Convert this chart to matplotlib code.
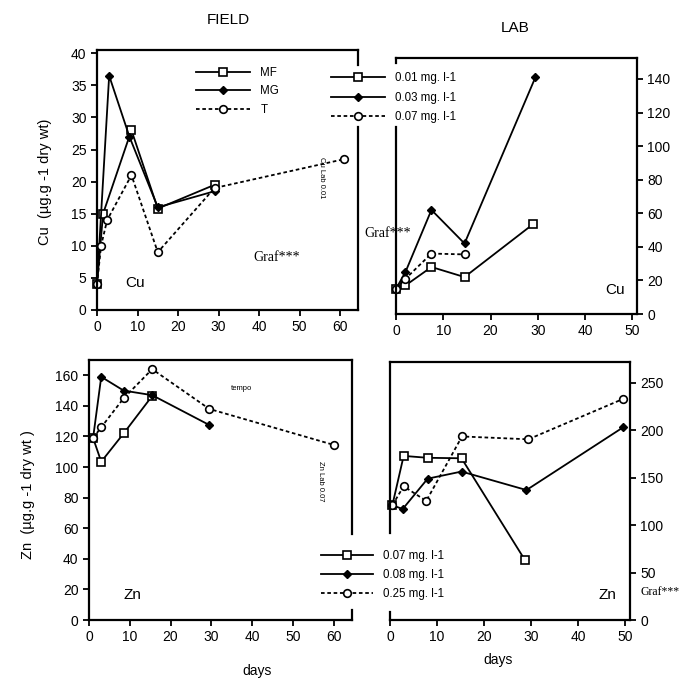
import numpy as np
import matplotlib
matplotlib.use('Agg')
import matplotlib.pyplot as plt

plt.rcParams['font.family'] = ['Liberation Sans', 'DejaVu Sans']

W, H = 685, 683

# field Cu
cu_f_mf_x = [0, 1.5, 8.5, 15, 29]
cu_f_mf_y = [4, 15, 28, 15.8, 19.5]
cu_f_mg_x = [0, 3, 8, 15, 29]
cu_f_mg_y = [4, 36.5, 27, 16, 18.5]
cu_f_t_x = [0, 1, 2.5, 8.5, 15, 29, 61]
cu_f_t_y = [4, 10, 14, 21, 9, 19, 23.5]

# lab Cu
cu_l_01_x = [0, 2, 7.5, 14.5, 29]
cu_l_01_y = [15, 17, 28, 22, 53.5]
cu_l_03_x = [0, 2, 7.5, 14.5, 29.5]
cu_l_03_y = [15, 25, 62, 42, 141]
cu_l_07_x = [0, 2, 7.5, 14.5]
cu_l_07_y = [15, 21, 36, 35.5]

# field Zn
zn_f_07_x = [1, 3, 8.5, 15.5]
zn_f_07_y = [119, 103.5, 122, 146.5]
zn_f_08_x = [1, 3, 8.5, 15.5, 29.5]
zn_f_08_y = [119, 159, 150, 147, 127.5]
zn_f_25_x = [1, 3, 8.5, 15.5, 29.5, 60]
zn_f_25_y = [119, 126, 145, 164, 138, 114.5]

# lab Zn
zn_l_07_x = [0.5, 2.9, 8, 15.2, 28.7]
zn_l_07_y = [121, 173, 171, 170.5, 63]
zn_l_08_x = [0.5, 2.7, 8, 15.2, 29, 49.5]
zn_l_08_y = [121, 117, 149, 156.5, 137, 203]
zn_l_25_x = [0.5, 2.9, 7.7, 15.3, 29.4, 49.5]
zn_l_25_y = [121, 141, 125.5, 193.5, 190.5, 233]

cu_legend = ['MF', 'MG', 'T']
cu_lab_legend = ['0.01 mg. l-1', '0.03 mg. l-1', '0.07 mg. l-1']
zn_legend = ['0.07 mg. l-1', '0.08 mg. l-1', '0.25 mg. l-1']


def rect(l, r, t, b):
    return [l / W, 1 - b / H, (r - l) / W, (b - t) / H]


sq = dict(color='black', lw=1.3, marker='s', ms=5.5, mfc='white', mew=1.2, clip_on=False)
dm = dict(color='black', lw=1.3, marker='D', ms=4, mfc='black', clip_on=False)
ci = dict(color='black', lw=1.3, ls=(0, (2, 1.5)), marker='o', ms=5.5, mfc='white', mew=1.2, clip_on=False)


def style(ax):
    for s in ax.spines.values():
        s.set_linewidth(1.6)
    ax.tick_params(labelsize=10, width=1.3, length=4)


def seg(ax, x, y0, y1):
    ax.plot([x, x], [y0, y1], transform=ax.transAxes, color='black', lw=1.6, clip_on=False)


fig = plt.figure(figsize=(W / 100, H / 100), dpi=100)

# top left: field Cu
ax1 = fig.add_axes(rect(97, 358, 50, 310))
l_mf, = ax1.plot(cu_f_mf_x, cu_f_mf_y, **sq)
l_mg, = ax1.plot(cu_f_mg_x, cu_f_mg_y, **dm)
l_t, = ax1.plot(cu_f_t_x, cu_f_t_y, **ci)
ax1.set_xlim(0, 64.4)
ax1.set_ylim(0, 40.5)
ax1.set_xticks(np.arange(0, 61, 10))
ax1.set_yticks(np.arange(0, 41, 5))
style(ax1)
ax1.spines['right'].set_visible(False)
seg(ax1, 1, 1, 0.942)
seg(ax1, 1, 0.704, 0)
ax1.text(0.11, 0.09, 'Cu', transform=ax1.transAxes, fontsize=11)
ax1.text(0.6, 0.19, 'Graf***', transform=ax1.transAxes, fontsize=10, family='Liberation Serif')
ax1.text(0.86, 0.59, 'Cu Lab 0.01', transform=ax1.transAxes, fontsize=5.5, rotation=-90,
         va='top', ha='center')

# top right: lab Cu
ax2 = fig.add_axes(rect(396, 637, 58, 314))
ax2.plot(cu_l_01_x, cu_l_01_y, **sq)
ax2.plot(cu_l_03_x, cu_l_03_y, **dm)
ax2.plot(cu_l_07_x, cu_l_07_y, **ci)
ax2.set_xlim(0, 51)
ax2.set_ylim(0, 152.5)
ax2.set_xticks(np.arange(0, 51, 10))
ax2.set_yticks(np.arange(0, 141, 20))
ax2.yaxis.tick_right()
style(ax2)
ax2.spines['left'].set_visible(False)
seg(ax2, 0, 1, 0.98)
seg(ax2, 0, 0.73, 0)
ax2.text(0.87, 0.08, 'Cu', transform=ax2.transAxes, fontsize=11)
ax2.text(-0.13, 0.3, 'Graf***', transform=ax2.transAxes, fontsize=10, family='Liberation Serif')

# bottom left: field Zn
ax3 = fig.add_axes(rect(89, 352, 360, 620))
z1, = ax3.plot(zn_f_07_x, zn_f_07_y, **sq)
z2, = ax3.plot(zn_f_08_x, zn_f_08_y, **dm)
z3, = ax3.plot(zn_f_25_x, zn_f_25_y, **ci)
ax3.set_xlim(0, 64.5)
ax3.set_ylim(0, 170)
ax3.set_xticks(np.arange(0, 61, 10))
ax3.set_yticks(np.arange(0, 161, 20))
style(ax3)
ax3.spines['right'].set_visible(False)
seg(ax3, 1, 1, 0.331)
seg(ax3, 1, 0.038, 0)
ax3.text(0.13, 0.08, 'Zn', transform=ax3.transAxes, fontsize=11)
ax3.text(0.54, 0.885, 'tempo', transform=ax3.transAxes, fontsize=5.5)
ax3.text(0.88, 0.61, 'Zn Lab 0.07', transform=ax3.transAxes, fontsize=5.5, rotation=-90,
         va='top', ha='center')

# bottom right: lab Zn
ax4 = fig.add_axes(rect(390, 630, 362, 620))
ax4.plot(zn_l_07_x, zn_l_07_y, **sq)
ax4.plot(zn_l_08_x, zn_l_08_y, **dm)
ax4.plot(zn_l_25_x, zn_l_25_y, **ci)
ax4.set_xlim(0, 51)
ax4.set_ylim(0, 272)
ax4.set_xticks(np.arange(0, 51, 10))
ax4.set_yticks(np.arange(0, 251, 50))
ax4.yaxis.tick_right()
style(ax4)
ax4.spines['left'].set_visible(False)
seg(ax4, 0, 1, 0.337)
seg(ax4, 0, 0.031, 0)
ax4.text(0.87, 0.08, 'Zn', transform=ax4.transAxes, fontsize=11)
ax4.text(1.045, 0.11, 'Graf***', transform=ax4.transAxes, fontsize=8.5,
         family='Liberation Serif', va='center')

# legends
leg_kw = dict(frameon=False, fontsize=8.3, loc='upper left', borderpad=0,
              handletextpad=0.9, bbox_transform=fig.transFigure)
fig.legend([l_mf, l_mg, l_t], cu_legend, bbox_to_anchor=(190 / W, 1 - 61 / H),
           handlelength=4.7, labelspacing=0.58, **leg_kw)
fig.legend([l_mf, l_mg, l_t], cu_lab_legend, bbox_to_anchor=(325 / W, 1 - 66 / H),
           handlelength=4.7, labelspacing=0.68, **leg_kw)
fig.legend([z1, z2, z3], zn_legend, bbox_to_anchor=(315 / W, 1 - 544 / H),
           handlelength=4.5, labelspacing=0.6, **leg_kw)

fig.text(228 / W, 1 - 20 / H, 'FIELD', fontsize=11, ha='center', va='center')
fig.text(515 / W, 1 - 28 / H, 'LAB', fontsize=11, ha='center', va='center')
fig.text(45 / W, 1 - 182 / H, 'Cu  (µg.g -1 dry wt)', fontsize=10.5, rotation=90,
         ha='center', va='center')
fig.text(28 / W, 1 - 495 / H, 'Zn  (µg.g -1 dry wt )', fontsize=10.5, rotation=90,
         ha='center', va='center')
fig.text(257 / W, 1 - 671 / H, 'days', fontsize=10, ha='center', va='center')
fig.text(498 / W, 1 - 660 / H, 'days', fontsize=10, ha='center', va='center')

fig.savefig('out.png', dpi=100)
